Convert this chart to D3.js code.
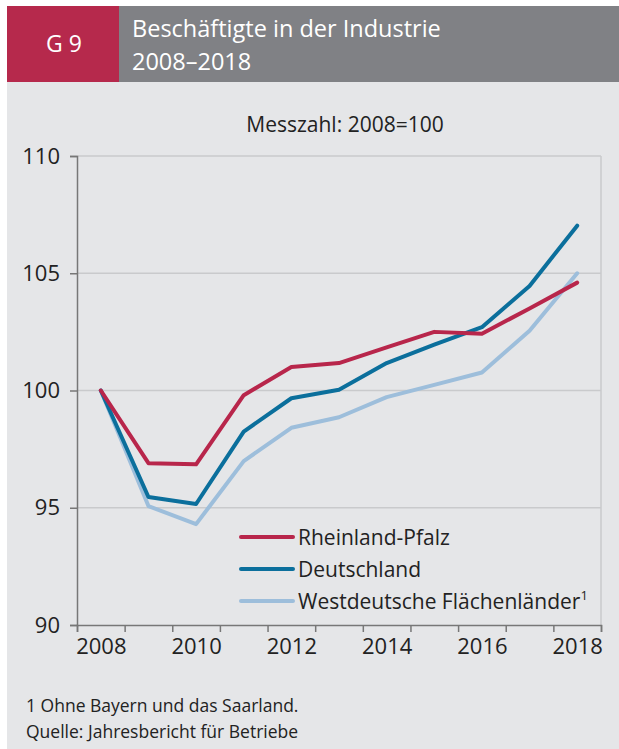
<!DOCTYPE html>
<html>
<head>
<meta charset="utf-8">
<script src="https://cdn.jsdelivr.net/npm/d3@7"></script>
<style>
  body { margin: 0; background: #fff; }
  svg { display: block; font-family: 'Open Sans', 'Noto Sans', sans-serif; }
</style>
</head>
<body>
<div id="chart"></div>
<script>
// Data
var years = [2008, 2009, 2010, 2011, 2012, 2013, 2014, 2015, 2016, 2017, 2018];
var rheinlandPfalz = [100, 96.9, 96.85, 99.8, 101.0, 101.17, 101.84, 102.5, 102.42, 103.5, 104.6];
var deutschland = [100, 95.46, 95.16, 98.25, 99.67, 100.03, 101.17, 101.96, 102.7, 104.46, 107.03];
var westdeutsche = [100, 95.07, 94.3, 96.99, 98.41, 98.86, 99.72, 100.24, 100.77, 102.55, 105.0];
var yTicks = [90, 95, 100, 105, 110];
var xLabels = [2008, 2010, 2012, 2014, 2016, 2018];
var seriesNames = ['Rheinland-Pfalz', 'Deutschland', 'Westdeutsche Flächenländer'];

var colors = ['#b8264b', '#0b6f9c', '#9dbedb'];

var svgWidth = 619, svgHeight = 749;

var svg = d3.select('#chart')
    .append('svg')
        .attr('width', svgWidth)
        .attr('height', svgHeight);

// panel background
svg.append('rect')
    .attr('x', 7).attr('y', 82)
    .attr('width', svgWidth - 7).attr('height', svgHeight - 82)
    .attr('fill', '#e5e6e8');

// header
svg.append('rect')
    .attr('x', 7).attr('y', 6)
    .attr('width', 112).attr('height', 76)
    .attr('fill', '#b6294c');
svg.append('rect')
    .attr('x', 119).attr('y', 6)
    .attr('width', svgWidth - 119).attr('height', 76)
    .attr('fill', '#808185');
svg.append('text')
    .attr('x', 64).attr('y', 52)
    .attr('text-anchor', 'middle')
    .attr('fill', '#fff')
    .style('font-size', '23px')
    .text('G 9');
svg.append('text')
    .attr('x', 132).attr('y', 37)
    .attr('fill', '#fff')
    .style('font-size', '23.5px')
    .text('Beschäftigte in der Industrie');
svg.append('text')
    .attr('x', 132).attr('y', 70)
    .attr('fill', '#fff')
    .style('font-size', '23.5px')
    .text('2008–2018');

// subtitle
svg.append('text')
    .attr('x', 345).attr('y', 132)
    .attr('text-anchor', 'middle')
    .attr('fill', '#222')
    .style('font-size', '21px')
    .text('Messzahl: 2008=100');

// Scales
var x = d3.scaleLinear().domain([2007.5, 2018.5]).range([77, 601]);
var y = d3.scaleLinear().domain([90, 110]).range([625, 156]);

// gridlines
svg.append('g')
    .selectAll('line')
    .data(yTicks.slice(1))
    .enter()
    .append('line')
        .attr('x1', 77).attr('x2', 601)
        .attr('y1', function(d) { return y(d); })
        .attr('y2', function(d) { return y(d); })
        .attr('stroke', '#c9cacc')
        .attr('stroke-width', 1.5);

// right border
svg.append('line')
    .attr('x1', 601).attr('x2', 601)
    .attr('y1', y(110)).attr('y2', y(90))
    .attr('stroke', '#c9cacc')
    .attr('stroke-width', 1.5);

// y axis
var leftAxis = d3.axisLeft(y).tickValues(yTicks).tickSize(7).tickPadding(10);
var gy = svg.append('g')
    .attr('transform', 'translate(77,0)')
    .call(leftAxis);
gy.select('.domain').attr('stroke', '#777').attr('stroke-width', 1.5);
gy.selectAll('.tick line').attr('stroke', '#777').attr('stroke-width', 1.5);
gy.selectAll('.tick text')
    .attr('fill', '#222')
    .style('font-size', '22px')
    .style('font-family', "'Open Sans', sans-serif");

// x axis tick marks at band edges
var bottomAxis = d3.axisBottom(x).tickValues(d3.range(2007.5, 2019, 1)).tickSize(7).tickFormat('');
var gx = svg.append('g')
    .attr('transform', 'translate(0,' + y(90) + ')')
    .call(bottomAxis);
gx.select('.domain').attr('stroke', '#777').attr('stroke-width', 1.5);
gx.selectAll('.tick line').attr('stroke', '#777').attr('stroke-width', 1.5);

// x labels
var labelAxis = d3.axisBottom(x).tickValues(xLabels).tickSize(0).tickPadding(13).tickFormat(d3.format('d'));
var gl = svg.append('g')
    .attr('transform', 'translate(0,' + y(90) + ')')
    .call(labelAxis);
gl.select('.domain').remove();
gl.selectAll('.tick text')
    .attr('fill', '#222')
    .style('font-size', '22px')
    .style('font-family', "'Open Sans', sans-serif");

// lines
var line = d3.line()
    .x(function(d, i) { return x(years[i]); })
    .y(function(d) { return y(d); });

var allSeries = [westdeutsche, deutschland, rheinlandPfalz];
var allColors = [colors[2], colors[1], colors[0]];

svg.append('g')
    .selectAll('path')
    .data(allSeries)
    .enter()
    .append('path')
        .attr('d', line)
        .attr('fill', 'none')
        .attr('stroke', function(d, i) { return allColors[i]; })
        .attr('stroke-width', 4)
        .attr('stroke-linejoin', 'round')
        .attr('stroke-linecap', 'round');

// legend
var legend = svg.append('g')
    .selectAll('g')
    .data(seriesNames)
    .enter()
    .append('g')
        .attr('transform', function(d, i) { return 'translate(241,' + (537 + i * 32) + ')'; });

legend.append('line')
    .attr('x1', 0).attr('x2', 52)
    .attr('stroke', function(d, i) { return colors[i]; })
    .attr('stroke-width', 4)
    .attr('stroke-linecap', 'round');

var legendText = legend.append('text')
    .attr('x', 57).attr('y', 8)
    .attr('fill', '#222')
    .style('font-size', '21px')
    .text(function(d) { return d; });

legendText.filter(function(d, i) { return i === 2; })
    .append('tspan')
        .attr('dy', -9)
        .style('font-size', '13px')
        .text('1');

// footnotes
svg.append('text')
    .attr('x', 26).attr('y', 712)
    .attr('fill', '#222')
    .style('font-size', '17.5px')
    .text('1 Ohne Bayern und das Saarland.');
svg.append('text')
    .attr('x', 26).attr('y', 738)
    .attr('fill', '#222')
    .style('font-size', '17.5px')
    .text('Quelle: Jahresbericht für Betriebe');
</script>
</body>
</html>
